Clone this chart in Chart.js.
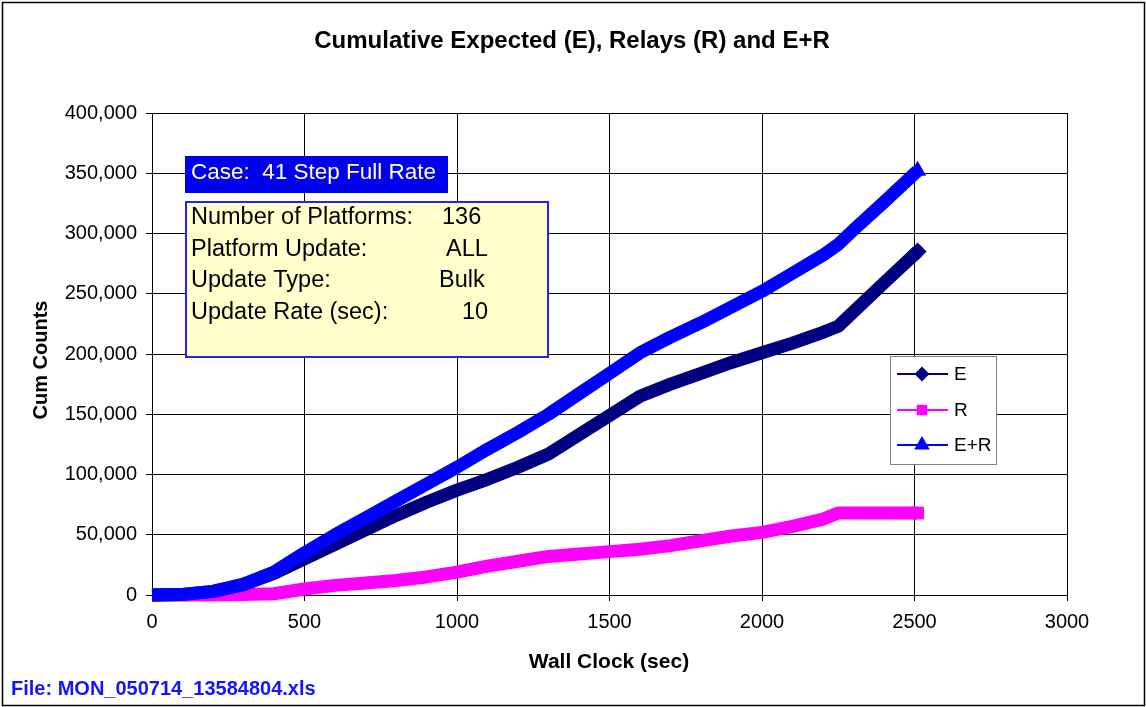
<!DOCTYPE html>
<html>
<head>
<meta charset="utf-8">
<script src="https://cdn.jsdelivr.net/npm/chart.js@4.4.0/dist/chart.umd.min.js"></script>
<style>
  body { margin: 0; background: #fff; }
  #caja { position: relative; width: 1146px; height: 707px; }
</style>
</head>
<body>
<div id="caja"><canvas id="grafico" width="1146" height="707"></canvas></div>
<script>
// datos (segundos de reloj vs cuentas acumuladas)
const tiempo = [0, 100, 200, 300, 400, 500, 600, 700, 800, 900, 1000, 1100, 1200, 1300, 1400, 1500, 1600, 1700, 1800, 1900, 2000, 2100, 2200, 2250, 2300, 2400, 2510];
const serieE = [0, 500, 3000, 8500, 18000, 30000, 42000, 54000, 66000, 77000, 87000, 96000, 106000, 117000, 133000, 149000, 165000, 175000, 184000, 193000, 201000, 209000, 218000, 223000, 235000, 259000, 285000];
const serieR = [0, 0, 0, 500, 1000, 5000, 8000, 10000, 12000, 15000, 19000, 24000, 28000, 32000, 34000, 36000, 38000, 41000, 45000, 49000, 52000, 57000, 63000, 68000, 68000, 68000, 68000];
const serieER = [0, 500, 3000, 9000, 19000, 35000, 50000, 64000, 78000, 92000, 106000, 121000, 135000, 150000, 167000, 184000, 201000, 214000, 226000, 239000, 252000, 267000, 282000, 291000, 303000, 326000, 352000];

const nombres = ['E', 'R', 'E+R'];
const colores = ['#000080', '#ff00ff', '#0000ff'];
const marcas = ['rectRot', 'rect', 'triangle'];

const titulo = 'Cumulative Expected (E), Relays (R) and E+R';
const tituloX = 'Wall Clock (sec)';
const tituloY = 'Cum Counts';
const archivo = 'File: MON_050714_13584804.xls';
const caso = 'Case:  41 Step Full Rate';
const etiquetasCaja = ['Number of Platforms:', 'Platform Update:', 'Update Type:', 'Update Rate (sec):'];
const valoresCaja = ['136', 'ALL', 'Bulk', '10'];

const fuente = "'Liberation Sans', Arial, sans-serif";

const juntar = (serie) => tiempo.map((t, i) => ({ x: t, y: serie[i] }));

const ultimo = (ctx) => ctx.dataIndex === ctx.dataset.data.length - 1 ? (ctx.dataset.pointStyle === 'triangle' ? 10 : 9) : 0;

const adornos = {
  id: 'adornos',
  beforeDraw(chart) {
    const c = chart.ctx;
    c.save();
    c.fillStyle = '#fff';
    c.fillRect(0, 0, chart.width, chart.height);
    c.restore();
  },
  afterDraw(chart) {
    const c = chart.ctx;
    c.save();
    // marco exterior
    c.strokeStyle = '#000';
    c.lineWidth = 1.5;
    c.strokeRect(2.5, 2.5, 1142, 703);

    // titulos
    c.fillStyle = '#000';
    c.textAlign = 'center';
    c.textBaseline = 'middle';
    c.font = 'bold 24px ' + fuente;
    c.fillText(titulo, 572, 41);
    c.font = 'bold 21px ' + fuente;
    c.fillText(tituloX, 609, 662);
    c.font = 'bold 20px ' + fuente;
    c.save();
    c.translate(41, 360);
    c.rotate(-Math.PI / 2);
    c.fillText(tituloY, 0, 0);
    c.restore();

    // archivo
    c.textAlign = 'left';
    c.fillStyle = '#1414ff';
    c.fillText(archivo, 11, 689);

    // caja azul
    c.fillStyle = '#0000ee';
    c.fillRect(185, 156, 263, 37);
    c.fillStyle = '#ffffcc';
    c.font = '22.5px ' + fuente;
    c.fillText(caso, 191, 173);

    // caja amarilla
    c.fillStyle = '#ffffcc';
    c.fillRect(185, 201, 364, 157);
    c.strokeStyle = '#2222ff';
    c.lineWidth = 2;
    c.strokeRect(186, 202, 362, 155);
    c.fillStyle = '#000';
    c.font = '23.5px ' + fuente;
    const valX = [442, 446, 439, 462];
    etiquetasCaja.forEach((txt, i) => {
      const y = 218 + i * 31.5;
      c.fillText(txt, 191, y);
      c.fillText(valoresCaja[i], valX[i], y);
    });

    // leyenda
    c.fillStyle = '#fff';
    c.fillRect(890, 356, 106, 108);
    c.strokeStyle = '#808080';
    c.lineWidth = 1;
    c.strokeRect(890.5, 356.5, 106, 108);
    const filas = [374, 410, 445];
    c.font = '19px ' + fuente;
    nombres.forEach((n, i) => {
      const y = filas[i];
      c.strokeStyle = colores[i];
      c.lineWidth = 2;
      c.beginPath();
      c.moveTo(897, y);
      c.lineTo(948, y);
      c.stroke();
      c.fillStyle = colores[i];
      c.strokeStyle = colores[i];
      Chart.helpers.drawPoint(c, { pointStyle: marcas[i], radius: marcas[i] === 'triangle' ? 7 : 6, rotation: 0, borderWidth: 1 }, 922, y);
      c.fillStyle = '#000';
      c.fillText(n, 954, y + 1);
    });
    c.restore();
  }
};

const ctx = document.getElementById('grafico');
let grafico = new Chart(ctx, {
  type: 'line',
  data: {
    datasets: [
      { label: nombres[0], data: juntar(serieE), borderColor: colores[0], backgroundColor: colores[0], pointStyle: marcas[0], order: 1 },
      { label: nombres[1], data: juntar(serieR), borderColor: colores[1], backgroundColor: colores[1], pointStyle: marcas[1], order: 2 },
      { label: nombres[2], data: juntar(serieER), borderColor: colores[2], backgroundColor: colores[2], pointStyle: marcas[2], order: 0 }
    ]
  },
  options: {
    responsive: false,
    animation: false,
    events: [],
    layout: { padding: { top: 113, right: 79, bottom: 52, left: 0 } },
    elements: {
      line: { borderWidth: 13, borderJoinStyle: 'round', borderCapStyle: 'butt', tension: 0, fill: false },
      point: { radius: ultimo, borderWidth: 0, hoverRadius: 0 }
    },
    datasets: { line: { clip: false } },
    plugins: { legend: { display: false }, tooltip: { enabled: false }, title: { display: false } },
    scales: {
      x: {
        type: 'linear',
        min: 0, max: 3000,
        afterFit: (s) => { s.height = 60; },
        ticks: { stepSize: 500, color: '#000', padding: 9, maxRotation: 0, font: { family: fuente, size: 20 }, callback: (v) => String(v) },
        grid: { color: '#000', lineWidth: 1, tickLength: 6, drawTicks: true },
        border: { color: '#000', width: 1 }
      },
      y: {
        min: 0, max: 400000,
        afterFit: (s) => { s.width = 152; },
        ticks: {
          stepSize: 50000, color: '#000', padding: 9,
          font: { family: fuente, size: 20 },
          callback: (v) => v.toLocaleString('en-US')
        },
        grid: { color: '#000', lineWidth: 1, tickLength: 6 },
        border: { color: '#000', width: 1 }
      }
    }
  },
  plugins: [adornos]
});
</script>
</body>
</html>
